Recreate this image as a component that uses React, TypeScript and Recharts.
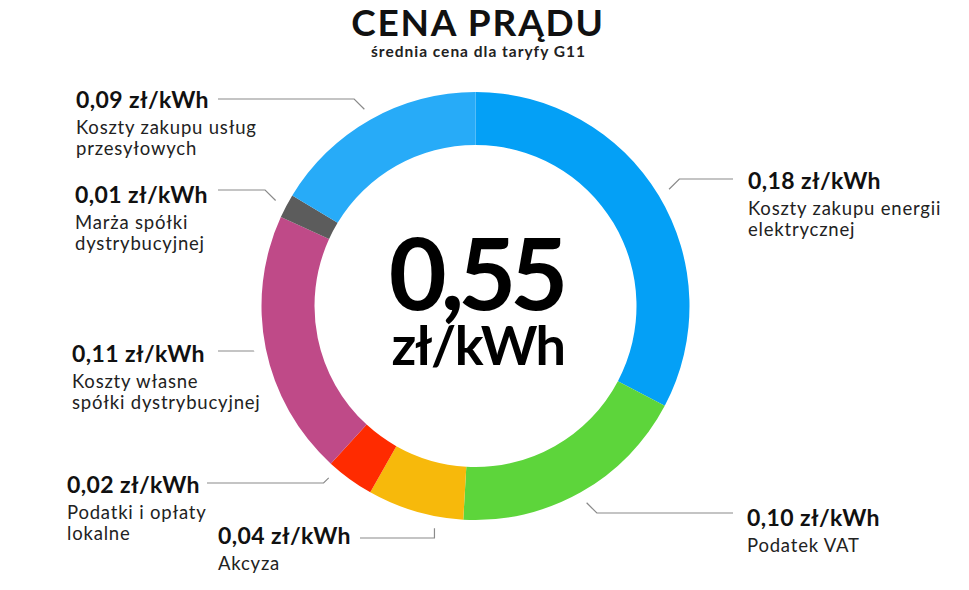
import { PieChart, Pie, Cell } from "recharts";

const FONT = "Lato, 'Open Sans', sans-serif";

// Składniki ceny, zgodnie z ruchem wskazówek zegara od godziny 12
const NAMES = ["energia", "vat", "akcyza", "lokalne", "koszty", "marza", "przesyl"];
const VALUES = [0.18, 0.1, 0.04, 0.02, 0.11, 0.01, 0.09];
const DESCRIPTIONS = [
  ["Koszty zakupu energii", "elektrycznej"],
  ["Podatek VAT"],
  ["Akcyza"],
  ["Podatki i opłaty", "lokalne"],
  ["Koszty własne", "spółki dystrybucyjnej"],
  ["Marża spółki", "dystrybucyjnej"],
  ["Koszty zakupu usług", "przesyłowych"],
];
const COLORS = ["#04A0F6", "#5DD53B", "#F7B90B", "#FF2B00", "#BF4A88", "#5C5C5C", "#27ABF8"];

const TITLE = "CENA PRĄDU";
const SUBTITLE = "średnia cena dla taryfy G11";
const UNIT = "zł/kWh";

// Rozmieszczenie podpisów (x tekstu, linia bazowa, wysokość linii, koniec linii)
const LABEL_LAYOUT = [
  { side: 1, textX: 748, textY: 189, lineY: 179, lineEnd: 733, nudge: 0, elbow: "diag" },
  { side: 1, textX: 747, textY: 526, lineY: 513, lineEnd: 733, nudge: 0, elbow: "diag" },
  { side: -1, textX: 218, textY: 544, lineY: 538, lineEnd: 360, nudge: 5.9, elbow: "vert" },
  { side: -1, textX: 67, textY: 493, lineY: 483, lineEnd: 207, nudge: -4.5, elbow: "diag" },
  { side: -1, textX: 72, textY: 362, lineY: 351, lineEnd: 218, nudge: 0, elbow: "diag" },
  { side: -1, textX: 75, textY: 203, lineY: 190, lineEnd: 218, nudge: 0, elbow: "diag" },
  { side: -1, textX: 76, textY: 108, lineY: 99, lineEnd: 218, nudge: 0, elbow: "diag" },
];

const data = NAMES.map((name, i) => ({ name, value: VALUES[i] }));
const total = VALUES.reduce((a, b) => a + b, 0);
const fmt = (v: number) => v.toFixed(2).replace(".", ",");

const RADIAN = Math.PI / 180;

function renderLabel(props: any) {
  const { cx, cy, midAngle, outerRadius, index, value } = props;
  const lay = LABEL_LAYOUT[index];
  const ang = (midAngle + lay.nudge) * RADIAN;
  const r = outerRadius + 12;
  const px = cx + r * Math.cos(-ang);
  const py = cy + r * Math.sin(-ang);
  const ex = lay.elbow === "vert" ? px : px + lay.side * Math.abs(lay.lineY - py);
  const ey = lay.lineY;
  const desc = DESCRIPTIONS[index];
  return (
    <g key={`lbl-${index}`}>
      <polyline
        points={`${px},${py} ${ex},${ey} ${lay.lineEnd},${ey}`}
        fill="none"
        stroke="#8a8a8a"
        strokeWidth={1.2}
      />
      <text
        x={lay.textX}
        y={lay.textY}
        fontFamily={FONT}
        fontWeight={700}
        fontSize={23}
        letterSpacing={0.4}
        fill="#111"
      >
        {`${fmt(value)} ${UNIT}`}
      </text>
      {desc.map((line, j) => (
        <text
          key={j}
          x={lay.textX}
          y={lay.textY + 26 + j * 21}
          fontFamily={FONT}
          fontSize={18.5}
          letterSpacing={0.8}
          fill="#222"
        >
          {line}
        </text>
      ))}
    </g>
  );
}

export default function App() {
  return (
    <div style={{ position: "absolute", left: 0, top: 0, width: 969, height: 590, background: "#fff" }}>
      <PieChart width={969} height={590} margin={{ top: 0, right: 0, bottom: 0, left: 0 }}>
        <Pie
          data={data}
          dataKey="value"
          nameKey="name"
          cx={475.5}
          cy={306}
          innerRadius={161}
          outerRadius={214}
          startAngle={90}
          endAngle={-270}
          paddingAngle={0}
          stroke="none"
          label={renderLabel}
          labelLine={false}
          isAnimationActive={false}
        >
          {data.map((entry, i) => (
            <Cell key={`cell-${entry.name}`} fill={COLORS[i]} />
          ))}
        </Pie>
      </PieChart>
      <svg
        width={969}
        height={590}
        style={{ position: "absolute", left: 0, top: 0, pointerEvents: "none" }}
      >
        <text x={478} y={36} textAnchor="middle" fontFamily={FONT} fontWeight={700} fontSize={37} letterSpacing={1.8} fill="#111">
          {TITLE}
        </text>
        <text x={478.5} y={57} textAnchor="middle" fontFamily={FONT} fontWeight={700} fontSize={15.5} letterSpacing={1} fill="#222">
          {SUBTITLE}
        </text>
        <text x={475.5} y={310} textAnchor="middle" fontFamily={FONT} fontWeight={700} fontSize={100} letterSpacing={-6} fill="#000">
          {fmt(total)}
        </text>
        <text x={478} y={365} textAnchor="middle" fontFamily={FONT} fontWeight={700} fontSize={54} letterSpacing={-1.5} fill="#000">
          {UNIT}
        </text>
      </svg>
    </div>
  );
}
